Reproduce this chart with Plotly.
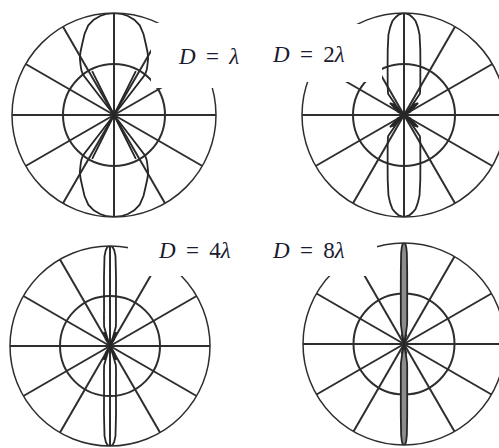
import plotly.graph_objects as go

# Figure size in pixels (the right-hand circles run slightly past the 499 px view)
W, H = 510, 448

# Radiation patterns, one quadrant each: angle from broadside (deg) and relative field
phi_1 = [0, 4, 8, 12, 16, 20, 24, 28, 31, 34, 36, 37.5, 38.5, 26.5, 25.5, 90]
r_1 = [1.0, 0.995, 0.98, 0.955, 0.915, 0.845, 0.765, 0.70, 0.65, 0.585, 0.545, 0.50, 0.0, 0.48, 0.0, 0.0]

phi_2 = [0, 3, 5, 7, 9, 11, 14, 18, 23, 30, 37, 40, 42, 46, 50, 54, 58, 62, 66, 90]
r_2 = [1.0, 0.985, 0.96, 0.93, 0.87, 0.80, 0.66, 0.52, 0.41, 0.32, 0.26, 0.12, 0.0, 0.15, 0.18, 0.10, 0.0, 0.08, 0.0, 0.0]

phi_4 = [0, 1.5, 2.5, 3.5, 5, 7, 9, 12, 15, 17, 18.5, 20, 23, 26, 29, 32, 35, 90]
r_4 = [1.0, 0.99, 0.96, 0.90, 0.69, 0.49, 0.38, 0.29, 0.23, 0.20, 0.08, 0.0, 0.14, 0.15, 0.0, 0.09, 0.0, 0.0]

phi_8 = [0, 0.8, 1.3, 1.8, 2.5, 3.5, 5, 7, 9, 10.5, 12, 14, 16, 18, 90]
r_8 = [1.0, 0.99, 0.96, 0.90, 0.72, 0.52, 0.36, 0.26, 0.20, 0.10, 0.0, 0.10, 0.0, 0.0, 0.0]

SP = "\u00a0\u2009"
labels = [f"<i>D</i>{SP}={SP}<i>λ</i>", f"<i>D</i>{SP}={SP}2<i>λ</i>",
          f"<i>D</i>{SP}={SP}4<i>λ</i>", f"<i>D</i>{SP}={SP}8<i>λ</i>"]
patterns = [(phi_1, r_1), (phi_2, r_2), (phi_4, r_4), (phi_8, r_8)]
fills = [None, None, None, "#8c8c8c"]

# Pixel boxes of the four polar plots: (left, right, top, bottom)
boxes = [(12, 216, 13, 217), (302, 506, 13, 217), (10, 210, 246, 446), (303, 505, 243, 445)]
# Label anchor points (left edge, vertical middle) and white label panels
label_pos = [(176, 57), (270, 55), (156, 250), (270, 251)]
panels = [(151, 250, 23, 88), (262, 382, 24, 82), (128, 245, 232, 276), (262, 377, 232, 276)]

INK = "#2e2e2e"


def full_pattern(q_deg, q_r):
    """Mirror one quadrant into both lobes (broadside up and down)."""
    th = list(q_deg) + [180 - a for a in reversed(q_deg)] + [180 + a for a in q_deg] + [360 - a for a in reversed(q_deg)]
    rr = list(q_r) + list(reversed(q_r)) + list(q_r) + list(reversed(q_r))
    return th, rr


fig = go.Figure()
layout = {}
for i, ((q_deg, q_r), box, fc) in enumerate(zip(patterns, boxes, fills)):
    name = "polar" if i == 0 else f"polar{i + 1}"
    th, rr = full_pattern(q_deg, q_r)
    fig.add_trace(go.Scatterpolar(
        theta=th, r=rr, mode="lines", subplot=name,
        line=dict(color="#262626", width=1.8), showlegend=False, hoverinfo="skip",
        fill="toself" if fc else None, fillcolor=fc,
    ))
    x0, x1, y0, y1 = box
    layout[name] = dict(
        domain=dict(x=[x0 / W, x1 / W], y=[1 - y1 / H, 1 - y0 / H]),
        bgcolor="white",
        radialaxis=dict(range=[0, 1], tickvals=[0.5], showticklabels=False, ticks="",
                        showline=False, gridcolor=INK, gridwidth=1.5),
        angularaxis=dict(rotation=90, direction="clockwise", dtick=30, showticklabels=False,
                         ticks="", showline=True, linecolor=INK, linewidth=1.5,
                         gridcolor=INK, gridwidth=1.5),
    )

shapes = []
for (x0, x1, y0, y1) in panels:
    shapes.append(dict(type="rect", xref="paper", yref="paper",
                       x0=x0 / W, x1=x1 / W, y0=1 - y1 / H, y1=1 - y0 / H,
                       fillcolor="white", line=dict(width=0), layer="above"))

annotations = []
for text, (px, py) in zip(labels, label_pos):
    annotations.append(dict(text=text, xref="paper", yref="paper", x=px / W, y=1 - py / H,
                            xanchor="left", yanchor="middle", showarrow=False,
                            font=dict(family="Liberation Serif, Times New Roman, serif", size=23, color="#1a1a30")))

fig.update_layout(
    width=W, height=H, margin=dict(l=0, r=0, t=0, b=0),
    paper_bgcolor="white", plot_bgcolor="white",
    shapes=shapes, annotations=annotations, **layout,
)

fig.write_html("out.html", post_script="document.body.style.margin='0';document.body.style.overflow='hidden';")
